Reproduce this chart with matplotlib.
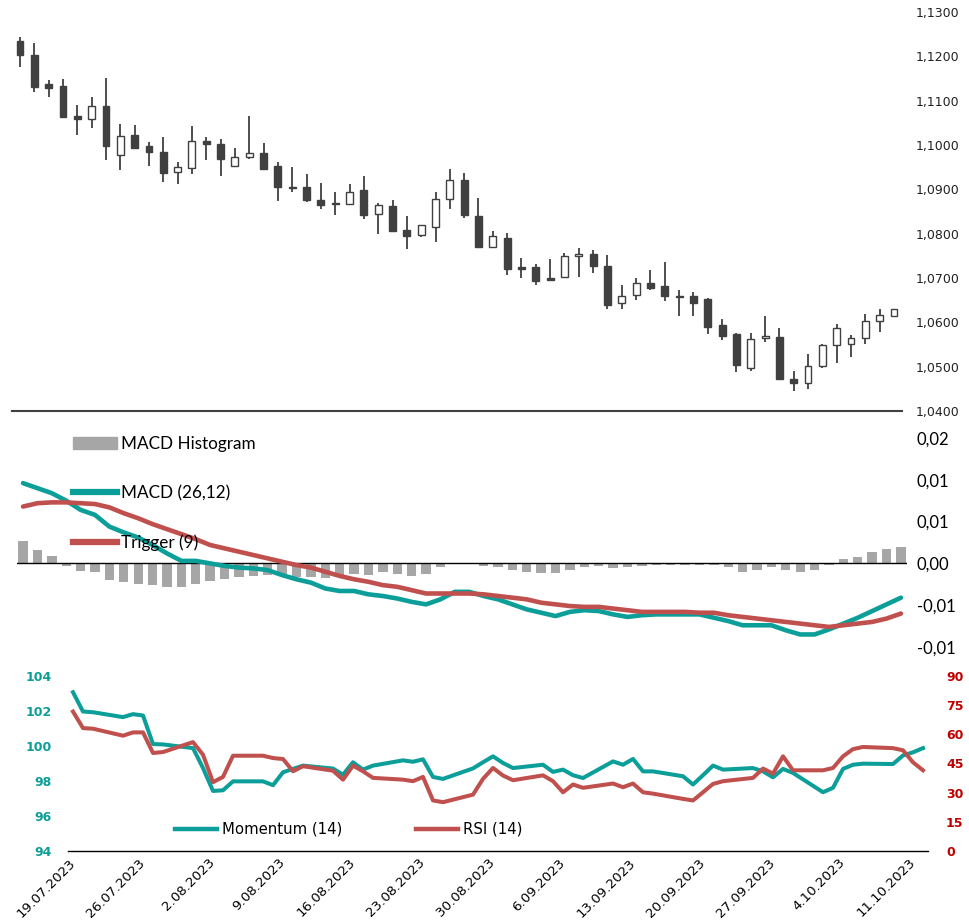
import numpy as np
import pandas as pd
import matplotlib
matplotlib.use("Agg")
import matplotlib.pyplot as plt
from matplotlib.lines import Line2D
from matplotlib.patches import Patch
from matplotlib.ticker import FuncFormatter

# trading days 19.07.2023 - 12.10.2023
dates = pd.bdate_range("2023-07-19", "2023-10-12")

opens = [1.1234, 1.1204, 1.1137, 1.1133, 1.1066, 1.1058, 1.1088, 1.0978, 1.1022, 1.0998,
         1.0984, 1.0938, 1.0949, 1.1010, 1.1003, 1.0953, 1.0973, 1.0982, 1.0952, 1.0905,
         1.0906, 1.0877, 1.0870, 1.0867, 1.0898, 1.0845, 1.0862, 1.0808, 1.0796, 1.0816,
         1.0878, 1.0922, 1.0840, 1.0771, 1.0791, 1.0724, 1.0724, 1.0700, 1.0703, 1.0749,
         1.0755, 1.0728, 1.0643, 1.0661, 1.0689, 1.0681, 1.0660, 1.0660, 1.0652, 1.0593,
         1.0573, 1.0498, 1.0564, 1.0568, 1.0473, 1.0464, 1.0502, 1.0548, 1.0551, 1.0564,
         1.0602, 1.0614]
highs = [1.1244, 1.1229, 1.1146, 1.1149, 1.1090, 1.1109, 1.1152, 1.1048, 1.1046, 1.1006,
         1.1018, 1.0962, 1.1043, 1.1018, 1.1013, 1.0994, 1.1065, 1.1005, 1.0962, 1.0950,
         1.0935, 1.0915, 1.0894, 1.0913, 1.0929, 1.0869, 1.0877, 1.0840, 1.0820, 1.0894,
         1.0945, 1.0937, 1.0880, 1.0807, 1.0802, 1.0746, 1.0732, 1.0743, 1.0756, 1.0767,
         1.0764, 1.0753, 1.0685, 1.0700, 1.0719, 1.0737, 1.0672, 1.0669, 1.0654, 1.0608,
         1.0577, 1.0577, 1.0615, 1.0587, 1.0491, 1.0529, 1.0551, 1.0596, 1.0571, 1.0618,
         1.0630, 1.0630]
lows = [1.1176, 1.1120, 1.1109, 1.1062, 1.1022, 1.1039, 1.0966, 1.0944, 1.0993, 1.0952,
        1.0916, 1.0911, 1.0935, 1.0966, 1.0930, 1.0950, 1.0968, 1.0944, 1.0874, 1.0895,
        1.0871, 1.0855, 1.0843, 1.0866, 1.0833, 1.0800, 1.0803, 1.0766, 1.0792, 1.0781,
        1.0855, 1.0836, 1.0770, 1.0769, 1.0706, 1.0700, 1.0685, 1.0694, 1.0700, 1.0702,
        1.0711, 1.0630, 1.0630, 1.0651, 1.0673, 1.0649, 1.0614, 1.0614, 1.0574, 1.0560,
        1.0487, 1.0490, 1.0555, 1.0471, 1.0446, 1.0450, 1.0498, 1.0508, 1.0522, 1.0551,
        1.0579, 1.0611]
closes = [1.1203, 1.1130, 1.1128, 1.1063, 1.1058, 1.1087, 1.0998, 1.1020, 1.0994, 1.0984,
          1.0937, 1.0950, 1.1009, 1.1003, 1.0968, 1.0973, 1.0981, 1.0945, 1.0905, 1.0902,
          1.0877, 1.0864, 1.0868, 1.0894, 1.0843, 1.0865, 1.0806, 1.0794, 1.0819, 1.0878,
          1.0922, 1.0843, 1.0771, 1.0794, 1.0721, 1.0721, 1.0694, 1.0696, 1.0749, 1.0755,
          1.0727, 1.0640, 1.0659, 1.0689, 1.0678, 1.0659, 1.0657, 1.0643, 1.0590, 1.0569,
          1.0504, 1.0563, 1.0570, 1.0472, 1.0464, 1.0502, 1.0549, 1.0587, 1.0564, 1.0602,
          1.0616, 1.0629]

macd_hist = [0.00264, 0.00164, 0.00092, -0.00028, -0.00088, -0.00108, -0.00204, -0.00228, -0.00244, -0.00264,
             -0.00284, -0.00284, -0.00244, -0.00208, -0.00184, -0.00168, -0.00148, -0.0014, -0.0014, -0.00164,
             -0.00164, -0.0018, -0.00164, -0.00124, -0.0014, -0.00108, -0.00124, -0.00148, -0.00124, -0.00048,
             0.0001, -0.0001, -0.0003, -0.00044, -0.0008, -0.00104, -0.0012, -0.0012, -0.0008, -0.00044,
             -0.0003, -0.0006, -0.00048, -0.0003, -0.0002, -0.0002, -0.0002, -0.0002, -0.0002, -0.00044,
             -0.00104, -0.0008, -0.00044, -0.0008, -0.00104, -0.0008, -0.0002, 0.00052, 0.00076, 0.00132,
             0.00172, 0.00192]
macd = [0.0096, 0.0090, 0.0084, 0.0075, 0.0064, 0.0058, 0.0044, 0.0037, 0.0031, 0.0022,
        0.0012, 0.0003, 0.0003, 0.0, -0.0003, -0.0005, -0.0006, -0.0008, -0.0014, -0.0019,
        -0.0023, -0.0030, -0.0033, -0.0033, -0.0037, -0.0039, -0.0042, -0.0046, -0.0049, -0.0043,
        -0.0034, -0.0034, -0.0039, -0.0043, -0.0049, -0.0055, -0.0059, -0.0063, -0.0058, -0.0056,
        -0.0057, -0.0061, -0.0064, -0.0062, -0.0061, -0.0061, -0.0061, -0.0061, -0.0065, -0.0069,
        -0.0074, -0.0074, -0.0074, -0.0080, -0.0085, -0.0085, -0.0079, -0.0072, -0.0065, -0.0057,
        -0.0049, -0.0041]
trigger = [0.0068, 0.0072, 0.0073, 0.0073, 0.0072, 0.0071, 0.0067, 0.0060, 0.0054, 0.0047,
           0.0041, 0.0035, 0.0029, 0.0022, 0.0018, 0.0014, 0.0010, 0.0006, 0.0002, -0.0002,
           -0.0005, -0.0010, -0.0015, -0.0019, -0.0022, -0.0026, -0.0028, -0.0032, -0.0036, -0.0036,
           -0.0036, -0.0036, -0.0037, -0.0039, -0.0041, -0.0043, -0.0047, -0.0049, -0.0051, -0.0052,
           -0.0052, -0.0054, -0.0056, -0.0058, -0.0058, -0.0058, -0.0058, -0.0059, -0.0059, -0.0062,
           -0.0064, -0.0066, -0.0068, -0.0070, -0.0072, -0.0074, -0.0076, -0.0074, -0.0072, -0.0070,
           -0.0066, -0.0060]

momentum = [103.07, 101.97, 101.93, 101.65, 101.82, 101.74, 100.11, 100.09, 99.88, 98.74,
            97.43, 97.47, 97.98, 97.98, 97.76, 98.50, 98.69, 98.88, 98.71, 98.36,
            99.07, 98.65, 98.88, 99.18, 99.10, 99.24, 98.23, 98.12, 98.72, 99.07,
            99.41, 99.03, 98.74, 98.93, 98.52, 98.65, 98.33, 98.17, 99.12, 98.93,
            99.26, 98.55, 98.55, 98.27, 97.80, 98.33, 98.88, 98.65, 98.74, 98.55,
            98.21, 98.69, 98.46, 97.36, 97.61, 98.69, 98.93, 98.99, 98.97, 99.46,
            99.64, 99.88]
rsi = [71.7, 63.2, 62.9, 59.3, 61.0, 61.0, 50.4, 50.9, 56.0, 49.5,
       35.4, 38.1, 49.0, 49.0, 47.8, 47.3, 41.0, 43.6, 41.3, 36.7,
       43.9, 41.0, 37.6, 36.7, 35.9, 38.1, 26.0, 25.1, 29.0, 37.1,
       42.7, 38.8, 36.4, 38.9, 35.9, 30.2, 34.2, 32.5, 34.7, 32.8,
       34.7, 30.2, 29.5, 26.8, 26.0, 30.2, 34.5, 35.9, 37.6, 42.4,
       39.8, 48.7, 41.5, 41.5, 42.7, 48.7, 52.4, 53.5, 52.9, 51.8,
       45.6, 41.5]

tick_labels = ["19.07.2023", "26.07.2023", "2.08.2023", "9.08.2023", "16.08.2023",
               "23.08.2023", "30.08.2023", "6.09.2023", "13.09.2023", "20.09.2023",
               "27.09.2023", "4.10.2023", "11.10.2023"]
macd_ticks = [-0.01, -0.005, 0.0, 0.005, 0.01, 0.015]
macd_tick_labels = ["-0,01", "-0,01", "0,00", "0,01", "0,01", "0,02"]

dark = "#404040"
teal = "#0c9e98"
red = "#c0504d"
grey = "#a6a6a6"

W, H = 969, 923
fig = plt.figure(figsize=(W / 100, H / 100), dpi=100)


def box(x0, x1, ytop, ybot):
    return [x0 / W, 1 - ybot / H, (x1 - x0) / W, (ybot - ytop) / H]


# ---- candles ----
ax1 = fig.add_axes(box(12, 902, 12, 411))
idx = np.arange(len(opens))
o = np.array(opens)
c = np.array(closes)
up = c >= o
ax1.vlines(idx, lows, highs, color=dark, lw=1.3, zorder=1)
ax1.bar(idx, np.maximum(np.abs(c - o), 0.00005), bottom=np.minimum(o, c), width=0.47,
        color=np.where(up, "white", dark), edgecolor=dark, linewidth=1.0, zorder=2)
ax1.set_xlim(-0.55, len(opens) - 0.45)
ax1.set_ylim(1.04, 1.13)
ax1.set_yticks(np.arange(1.04, 1.1301, 0.01))
ax1.yaxis.set_major_formatter(FuncFormatter(lambda v, p: f"{v:.4f}".replace(".", ",")))
ax1.yaxis.tick_right()
ax1.tick_params(axis="y", length=0, pad=10, labelsize=9, labelcolor="#222222")
ax1.set_xticks([])
for s in ["top", "left", "right"]:
    ax1.spines[s].set_visible(False)
ax1.spines["bottom"].set_color(dark)
ax1.spines["bottom"].set_linewidth(1.5)

# ---- MACD ----
ax2 = fig.add_axes(box(17, 907, 438, 647))
ax2.bar(idx, macd_hist, width=0.65, color=grey, zorder=1)
ax2.axhline(0, color="black", lw=1.0, zorder=2)
ax2.plot(idx, macd, color=teal, lw=3.3, solid_capstyle="round", zorder=3)
ax2.plot(idx, trigger, color=red, lw=3.3, solid_capstyle="round", zorder=4)
ax2.set_xlim(-0.42, len(opens) - 0.58)
ax2.set_ylim(-0.01, 0.015)
ax2.set_yticks(macd_ticks)
ax2.set_yticklabels(macd_tick_labels, fontfamily="Lato", fontsize=12)
ax2.yaxis.tick_right()
ax2.tick_params(axis="y", length=0, pad=7)
ax2.set_xticks([])
for s in ax2.spines.values():
    s.set_visible(False)
handles = [Patch(color=grey), Line2D([], [], color=teal, lw=4.5), Line2D([], [], color=red, lw=4.5)]
fig.legend(handles, ["MACD Histogram", "MACD (26,12)", "Trigger (9)"], loc="upper left",
           bbox_to_anchor=(73 / W, 1 - 436 / H), frameon=False, borderpad=0, borderaxespad=0,
           prop={"family": "Lato", "size": 12.3}, handlelength=2.6, handletextpad=0.2,
           labelspacing=1.95)

# ---- Momentum / RSI ----
ax3 = fig.add_axes(box(68, 928, 676, 851))
ax3.plot(dates, momentum, color=teal, lw=2.9)
ax3.set_ylim(94, 104)
ax3.set_yticks(np.arange(94, 105, 2))
ax3.tick_params(axis="y", length=0, pad=12, labelsize=9, labelcolor=teal)
for lab in ax3.get_yticklabels():
    lab.set_fontweight("bold")
ax3.set_xlim(dates[0] - pd.Timedelta(hours=12), dates[0] + pd.Timedelta(days=85.5))
ax3.set_xticks(pd.to_datetime(tick_labels, format="%d.%m.%Y"))
ax3.set_xticklabels(tick_labels, rotation=45, ha="right", va="center", rotation_mode="anchor",
                    fontsize=9.6)
ax3.tick_params(axis="x", length=0, pad=7)
for s in ["top", "left", "right"]:
    ax3.spines[s].set_visible(False)
ax3.spines["bottom"].set_color("black")
ax3.spines["bottom"].set_linewidth(1.0)

ax4 = ax3.twinx()
ax4.plot(dates, rsi, color=red, lw=2.9)
ax4.set_ylim(0, 90)
ax4.set_yticks(np.arange(0, 91, 15))
ax4.tick_params(axis="y", length=0, pad=13, labelsize=9, labelcolor="#c00000")
for lab in ax4.get_yticklabels():
    lab.set_fontweight("bold")
for s in ax4.spines.values():
    s.set_visible(False)

h2 = [Line2D([], [], color=teal, lw=3.2), Line2D([], [], color=red, lw=3.2)]
fig.legend(h2, ["Momentum (14)", "RSI (14)"], loc="upper left", ncol=2,
           bbox_to_anchor=(175 / W, 1 - 822 / H), frameon=False, borderpad=0, borderaxespad=0,
           fontsize=10.7, handlelength=2.8, handletextpad=0.35, columnspacing=5.0)

fig.savefig("out.png", dpi=100)
